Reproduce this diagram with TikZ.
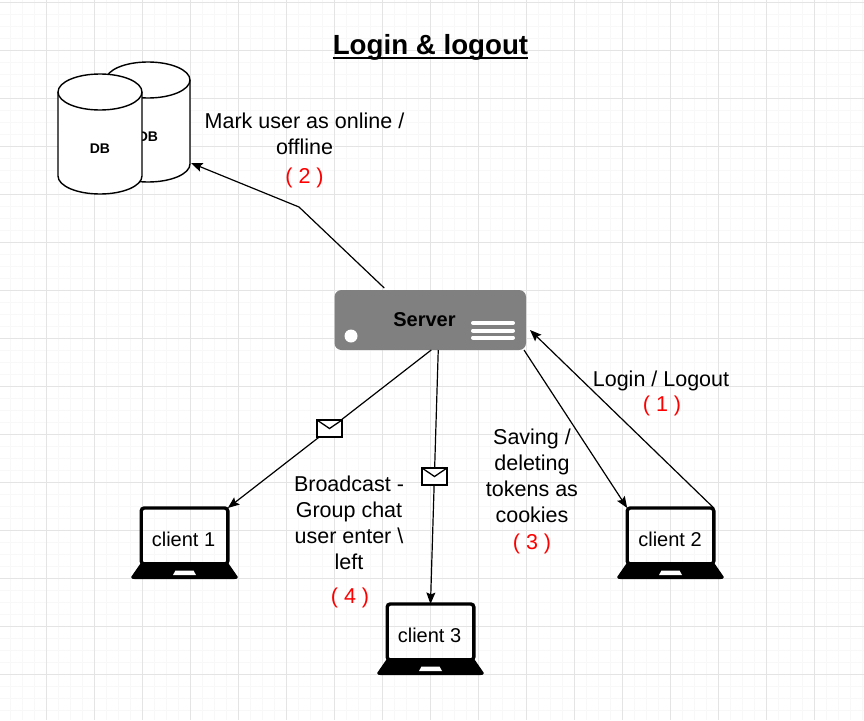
\documentclass[tikz,border=0pt]{standalone}
\usepackage{fontspec}
\setmainfont{Liberation Sans}
\usetikzlibrary{arrows.meta,calc}
\definecolor{gridmajor}{HTML}{E4E4E4}
\definecolor{gridminor}{HTML}{F8F8F8}
\definecolor{servergray}{HTML}{808080}
\tikzset{
  lbl/.style={inner sep=0pt,outer sep=0pt,align=center,font=\fontsize{21.5}{26}\selectfont},
  redlbl/.style={lbl,text=red},
  conn/.style={draw=black,line width=1.2pt,-{Stealth[length=11.5pt,width=9pt,inset=2pt]}},
  cyl/.style={draw=black,line width=1.4pt,fill=white},
  dbtext/.style={inner sep=0pt,font=\fontsize{14}{16}\bfseries\selectfont},
  screen/.style={draw=black,line width=3.4pt,rounded corners=3pt,minimum width=86.6pt,minimum height=56pt,inner sep=0pt,outer sep=0pt},
  clienttext/.style={inner sep=0pt,font=\fontsize{20}{24}\selectfont},
  envel/.style={draw=black,fill=white,line width=1.3pt,minimum width=25pt,minimum height=17pt,inner sep=0pt,outer sep=0pt},
  srv/.style={fill=servergray,rounded corners=7pt,minimum width=191.5pt,minimum height=60pt,inner sep=0pt,outer sep=0pt},
  srvline/.style={draw=white,line width=4pt,line cap=round},
}
\newcommand{\laptopbase}[2]{%
  \fill[black] ($(#1)+(-43,26)$) -- ($(#1)+(43,26)$) -- ($(#1)+(52,39)$)
     .. controls ($(#1)+(54.5,41.5)$) and ($(#1)+(53,43)$) .. ($(#1)+(50,43)$)
     -- ($(#1)+(-50,43)$)
     .. controls ($(#1)+(-53,43)$) and ($(#1)+(-54.5,41.5)$) .. ($(#1)+(-52,39)$) -- cycle;
  \fill[white] ($(#1)+(-9,34.5)$) -- ($(#1)+(9,34.5)$) -- ($(#1)+(11.5,39)$) -- ($(#1)+(-11.5,39)$) -- cycle;
}
\newcommand{\cylinderat}[2]{%
  \path[cyl] ($(#1)+(-42,-42)$) arc[start angle=180,end angle=0,x radius=42pt,y radius=18pt]
     -- ($(#1)+(42,42)$) arc[start angle=0,end angle=-180,x radius=42pt,y radius=18pt] -- cycle;
  \draw[black,line width=1.4pt] ($(#1)+(-42,-42)$) arc[start angle=180,end angle=360,x radius=42pt,y radius=18pt];
}
\begin{document}
\begin{tikzpicture}[x=1pt,y=-1pt]
\useasboundingbox (0,0) rectangle (864,720);
\fill[white] (0,0) rectangle (864,720);
% grid
\foreach \i in {-3,...,69}{
  \draw[gridminor,line width=1pt] ({46+12*\i},0) -- ({46+12*\i},720);
  \draw[gridminor,line width=1pt] (0,{2+12*\i}) -- (864,{2+12*\i});
}
\foreach \i in {0,...,17}{
  \draw[gridmajor,line width=1pt] ({46+48*\i-48},0) -- ({46+48*\i-48},720);
}
\foreach \i in {0,...,15}{
  \draw[gridmajor,line width=1pt] (0,{2+48*\i}) -- (864,{2+48*\i});
}
% title
\node[inner sep=0pt,font=\fontsize{27.7}{32}\bfseries\selectfont] (title) at (430.5,47) {Login \& logout};
\draw[black,line width=2.4pt] ($(title.west)+(0,11)$) -- ($(title.east)+(0,11)$);
% databases
\coordinate (dbb) at (148,122);
\coordinate (dbf) at (100,134);
\cylinderat{dbb}{}
\node[dbtext] (dbbtext) at (148,137) {DB};
\cylinderat{dbf}{}
\node[dbtext] (dbftext) at (100,149) {DB};
% server
\node[srv] (server) at (430.25,320) {};
\fill[white] (351,336) circle[radius=6.5pt];
\node[inner sep=0pt,font=\fontsize{20}{24}\bfseries\selectfont,text=black] (srvtext) at (424.5,320) {Server};
\draw[srvline] (473,323) -- (513,323);
\draw[srvline] (473,330.5) -- (513,330.5);
\draw[srvline] (473,337.5) -- (513,337.5);
% laptops
\node[screen] (c1) at (184.5,536) {};
\node[screen] (c2) at (670.5,536) {};
\node[screen] (c3) at (430.5,632) {};
\node[clienttext] (c1text) at (183.5,539.5) {client 1};
\node[clienttext] (c2text) at (670,539.5) {client 2};
\node[clienttext] (c3text) at (429.5,635.5) {client 3};
\laptopbase{c1}{}
\laptopbase{c2}{}
\laptopbase{c3}{}
% connectors
\coordinate (bend) at (299,207);
\draw[conn] ($(server.north)+(-46,-2)$) -- (bend) -- ($(dbb)+(43,41)$);
\draw[conn] ($(server.south)+(1,0)$) -- (c1.north east);
\draw[conn] ($(server.south)+(8,0)$) -- (c3.north);
\draw[conn] ($(server.south east)+(-2,0)$) -- (c2.north west);
\draw[conn] (c2.north east) -- ($(server.east)+(4,10)$);
% envelopes
\node[envel] (env1) at (329.5,428.5) {};
\draw[black,line width=1.3pt] (env1.north west) -- (env1.center) -- (env1.north east);
\node[envel] (env2) at (434.5,476.5) {};
\draw[black,line width=1.3pt] (env2.north west) -- (env2.center) -- (env2.north east);
% labels
\node[lbl] (l2) at (304.5,133.5) {Mark user as online /\\offline};
\node[redlbl] (r2) at (304.5,178) {( 2 )};
\node[lbl] (l1) at (661,381) {Login / Logout};
\node[redlbl] (r1) at (662,406) {( 1 )};
\node[lbl] (l3) at (532,476) {Saving /\\deleting\\tokens as\\cookies};
\node[redlbl] (r3) at (532,544) {( 3 )};
\node[lbl] (l4) at (349,523) {Broadcast -\\Group chat\\user enter \textbackslash\\left};
\node[redlbl] (r4) at (350,598) {( 4 )};
\end{tikzpicture}
\end{document}
